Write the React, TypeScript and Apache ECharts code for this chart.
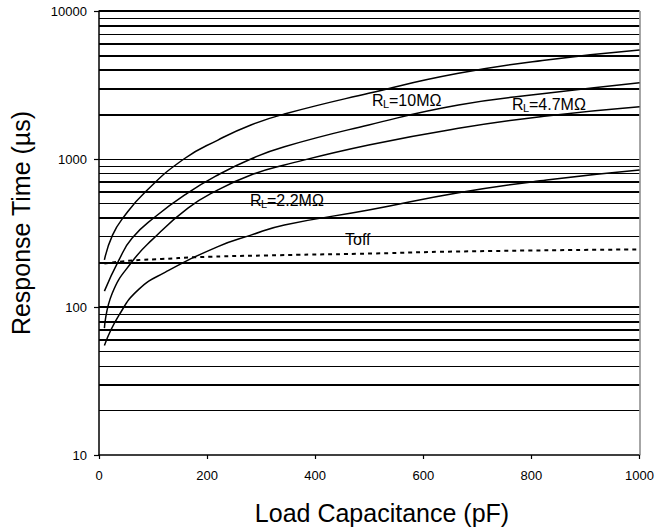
import React, { useEffect, useRef } from "react";
import * as echarts from "echarts";

// Load capacitance (pF) and response time (µs)
const cap10M = [10, 25, 46, 86, 157, 220, 281, 343, 499, 665, 828, 1000];
const resp10M = [208, 306, 407, 601, 1000, 1343, 1698, 2014, 2780, 3793, 4667, 5450];

const cap47M = [10, 37, 61, 104, 163, 220, 281, 343, 499, 665, 828, 1000];
const resp47M = [128, 208, 291, 407, 586, 780, 1000, 1211, 1698, 2317, 2780, 3280];

const capMid = [10, 24.5, 61, 98, 164.5, 220, 281, 343, 499, 665, 828, 1000];
const respMid = [72, 124, 202, 284, 465, 618, 780, 910, 1244, 1612, 1953, 2256];

const cap22M = [10, 37, 74, 123, 220, 281, 343, 499, 665, 828, 1000];
const resp22M = [55, 88, 132, 172, 256, 306, 358, 452, 592, 721, 843];

const capToff = [10, 67, 116, 178, 335, 511, 656, 1000];
const respToff = [197, 207, 211, 217, 224, 230, 237, 245];

// Horizontal grid lines (value, drawn thick?)
const gridValues = [20, 30, 40, 50, 60, 70, 80, 90, 100, 200, 300, 400, 500, 600, 700, 800, 900, 1000, 2000, 3000, 4000, 5000, 6000, 7000, 8000, 9000, 10000];
const gridThick = [false, true, false, false, true, true, true, false, true, true, false, true, false, true, true, false, false, false, true, true, true, true, true, false, true, false, true];

const xTicks = { min: 0, max: 1000, interval: 200 };
const yRange = { min: 10, max: 10000 };

const zip = (xs: number[], ys: number[]) => xs.map((x, i) => [x, ys[i]]);

const FONT = "'Liberation Sans', Arial, sans-serif";

function rLabel(x: number, y: number, rest: string) {
  return [
    { type: "text", x, y, style: { text: "R", fontSize: 16, fontFamily: FONT, fill: "#000", verticalAlign: "middle" } },
    { type: "text", x: x + 11, y: y + 4, style: { text: "L", fontSize: 11, fontFamily: FONT, fill: "#000", verticalAlign: "middle" } },
    { type: "text", x: x + 17, y, style: { text: rest, fontSize: 16, fontFamily: FONT, fill: "#000", verticalAlign: "middle" } },
  ];
}

export default function App() {
  const ref = useRef<HTMLDivElement>(null);
  useEffect(() => {
    document.body.style.margin = "0";
    if (!ref.current) return;
    const chart = echarts.init(ref.current, undefined, { renderer: "svg" });
    const curve = (name: string, data: number[][]) => ({
      name,
      type: "line",
      data,
      smooth: true,
      showSymbol: false,
      symbol: "none",
      lineStyle: { color: "#000", width: 1.5 },
      z: 5,
    });
    chart.setOption({
      animation: false,
      backgroundColor: "#fff",
      grid: { left: 99, right: 15, top: 11, bottom: 74, containLabel: false },
      xAxis: {
        type: "value",
        min: xTicks.min,
        max: xTicks.max,
        interval: xTicks.interval,
        axisLine: { show: true, onZero: false, lineStyle: { color: "#000", width: 1.5 } },
        axisTick: { show: true, length: 4, lineStyle: { color: "#000", width: 1.2 } },
        splitLine: { show: false },
        axisLabel: { color: "#000", fontSize: 13, fontFamily: FONT, margin: 14, formatter: (v: number) => String(v) },
      },
      yAxis: {
        type: "log",
        logBase: 10,
        min: yRange.min,
        max: yRange.max,
        axisLine: { show: true, lineStyle: { color: "#000", width: 1.5 } },
        axisTick: { show: true, length: 5, lineStyle: { color: "#000", width: 1.2 } },
        splitLine: { show: false },
        axisLabel: { color: "#000", fontSize: 13, fontFamily: FONT, margin: 12, formatter: (v: number) => String(Math.round(v)) },
      },
      series: [
        {
          name: "grid",
          type: "line",
          data: [[500, 100]],
          symbol: "none",
          showSymbol: false,
          lineStyle: { opacity: 0 },
          silent: true,
          z: 1,
          markLine: {
            silent: true,
            symbol: ["none", "none"],
            label: { show: false },
            data: [
              ...gridValues.map((v, i) => ({
                yAxis: v,
                lineStyle: { color: "#000", width: gridThick[i] ? 2 : 1, type: "solid" },
              })),
              { xAxis: 1000, lineStyle: { color: "#888", width: 1.5, type: "solid" } },
            ],
          },
        },
        curve("RL=10MΩ", zip(cap10M, resp10M)),
        curve("RL=4.7MΩ", zip(cap47M, resp47M)),
        curve("mid", zip(capMid, respMid)),
        curve("RL=2.2MΩ", zip(cap22M, resp22M)),
        {
          name: "Toff",
          type: "line",
          data: zip(capToff, respToff),
          smooth: true,
          showSymbol: false,
          symbol: "none",
          lineStyle: { color: "#000", width: 2, type: [4, 4] },
          z: 5,
        },
      ],
      graphic: [
        {
          type: "text",
          x: 21,
          y: 223,
          rotation: Math.PI / 2,
          style: { text: "Response Time (µs)", fontSize: 25, fontFamily: FONT, fill: "#000", align: "center", verticalAlign: "middle" },
        },
        {
          type: "text",
          x: 382,
          y: 513,
          style: { text: "Load Capacitance (pF)", fontSize: 25, fontFamily: FONT, fill: "#000", align: "center", verticalAlign: "middle" },
        },
        ...rLabel(372, 100, "=10MΩ"),
        ...rLabel(512, 104, "=4.7MΩ"),
        ...rLabel(250, 200, "=2.2MΩ"),
        { type: "text", x: 345, y: 239, style: { text: "Toff", fontSize: 16, fontFamily: FONT, fill: "#000", verticalAlign: "middle" } },
      ],
    });
    return () => chart.dispose();
  }, []);
  return <div ref={ref} style={{ width: 657, height: 529 }} />;
}
